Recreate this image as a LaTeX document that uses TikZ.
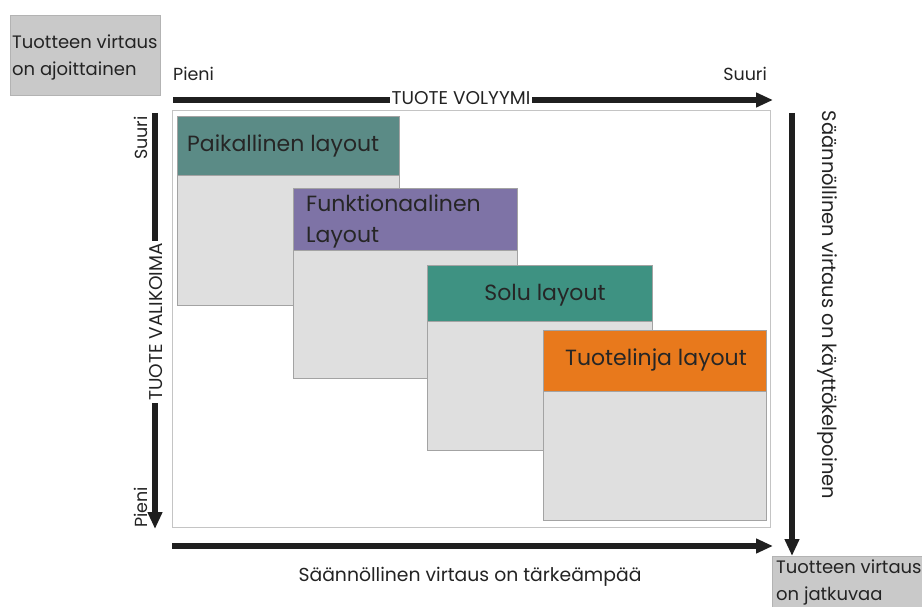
\documentclass[tikz,border=0pt]{standalone}
\usepackage{fontspec}
\setmainfont{Poppins}
\usetikzlibrary{arrows.meta}
\definecolor{txt}{HTML}{232323}
\definecolor{cornerfill}{HTML}{C9C9C9}
\definecolor{cornerline}{HTML}{B3B3B3}
\definecolor{bodyfill}{HTML}{DFDFDF}
\definecolor{bodyline}{HTML}{A3A3A3}
\definecolor{framecol}{HTML}{C4C4C4}
\definecolor{hdA}{HTML}{5B8B86}
\definecolor{hdB}{HTML}{7E73A6}
\definecolor{hdC}{HTML}{3E9282}
\definecolor{hdD}{HTML}{E8791C}
\tikzset{
  axis/.style={line width=5.5pt, draw=black!88, -{Triangle[length=17pt,width=14pt]}},
  axislabel/.style={fill=white, inner sep=2pt, text=txt, font=\fontsize{18.5}{18.5}\selectfont},
  endlabel/.style={text=txt, inner sep=0pt, font=\fontsize{17.5}{17.5}\selectfont},
  corner/.style={fill=cornerfill, draw=cornerline, line width=0.8pt},
  cornertext/.style={text=txt, inner sep=0pt, align=left, anchor=base west},
  panelbody/.style={fill=bodyfill, draw=bodyline, line width=0.8pt},
  panelhead/.style={draw=bodyline, line width=0.8pt},
  headtext/.style={text=black!85, inner sep=0pt, font=\fontsize{22}{31}\selectfont},
  sidetext/.style={text=txt, inner sep=0pt, font=\fontsize{19.5}{19.5}\selectfont}
}
\begin{document}
\begin{tikzpicture}[x=1pt, y=-1pt]
\useasboundingbox (0,0) rectangle (922,607);

% corner boxes (text anchored on the baseline of its last line)
\fill[corner] (10,15) rectangle (160,95);
\node[cornertext, font=\fontsize{18}{27}\selectfont] (cornerTL) at (12,76) {Tuotteen virtaus\\on ajoittainen};
\fill[corner] (772,556) rectangle (925,612);
\node[cornertext, font=\fontsize{18}{27}\selectfont] (cornerBR) at (776,600) {Tuotteen virtaus\\on jatkuvaa};

% outer frame
\draw[framecol, line width=0.9pt] (172,110) rectangle (770,527);

% layout panels: light body plus coloured header
\draw[panelbody] (177,116) rectangle (399,305);
\draw[panelhead, fill=hdA] (177,116) rectangle (399,175);
\node[headtext, anchor=west] (pA) at (187,146) {Paikallinen layout};

\draw[panelbody] (293,188) rectangle (517,378);
\draw[panelhead, fill=hdB] (293,188) rectangle (517,250);
\node[headtext, anchor=west, align=left] (pB) at (306,221) {Funktionaalinen\\Layout};

\draw[panelbody] (427,265) rectangle (652,450);
\draw[panelhead, fill=hdC] (427,265) rectangle (652,321);
\node[headtext] (pC) at (545,295) {Solu layout};

\draw[panelbody] (543,330) rectangle (766,520);
\draw[panelhead, fill=hdD] (543,330) rectangle (766,391);
\node[headtext] (pD) at (656,360) {Tuotelinja layout};

% axes
\coordinate (topS) at (173,100);
\coordinate (topE) at (773,100);
\draw[axis] (topS) -- (topE);
\node[axislabel] (volyymi) at (461,98) {TUOTE VOLYYMI};
\node[endlabel, anchor=base west] (smallX) at (173,81) {Pieni};
\node[endlabel, anchor=base east] (largeX) at (767,81) {Suuri};

\coordinate (leftS) at (155,113);
\coordinate (leftE) at (155,529);
\draw[axis] (leftS) -- (leftE);
\node[axislabel, rotate=90] (valikoima) at (156,322) {TUOTE VALIKOIMA};
\node[endlabel, rotate=90, anchor=base east] (largeY) at (147,116) {Suuri};
\node[endlabel, rotate=90, anchor=base west] (smallY) at (147,528) {Pieni};

\coordinate (rightS) at (792,113);
\coordinate (rightE) at (792,556);
\draw[axis] (rightS) -- (rightE);
\node[sidetext, rotate=-90] (kaytto) at (827,305) {Säännöllinen virtaus on käyttökelpoinen};

\coordinate (botS) at (172,546);
\coordinate (botE) at (773,546);
\draw[axis] (botS) -- (botE);
\node[sidetext, font=\fontsize{18.8}{18.8}\selectfont] (tarkea) at (470,577) {Säännöllinen virtaus on tärkeämpää};
\end{tikzpicture}
\end{document}
